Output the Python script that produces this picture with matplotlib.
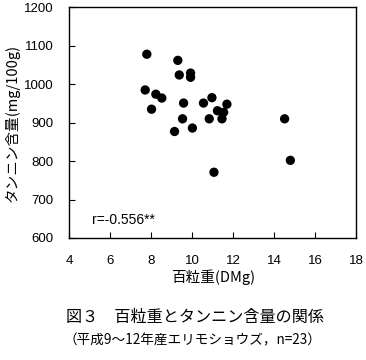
import matplotlib
matplotlib.use("Agg")
import matplotlib.pyplot as plt

plt.rcParams['font.family'] = ['Liberation Sans', 'Noto Sans CJK JP', 'DejaVu Sans']

# 百粒重 (DMg) and タンニン含量 (mg/100g)
seed_weight = [7.79, 9.30, 9.37, 9.92, 9.92, 7.71, 8.23, 8.52, 8.02, 9.58,
               10.55, 10.96, 11.23, 11.53, 11.69, 9.53, 10.83, 11.45, 14.50,
               9.14, 10.01, 11.06, 14.78]
tannin = [1078, 1062, 1024, 1029, 1018, 985, 974, 964, 935, 951,
          951, 965, 931, 927, 948, 910, 910, 910, 910,
          877, 886, 771, 802]

xticks = [4, 6, 8, 10, 12, 14, 16, 18]
yticks = [600, 700, 800, 900, 1000, 1100, 1200]

jp = ['Noto Sans CJK JP', 'DejaVu Sans']

fig = plt.figure(figsize=(3.66, 3.60), dpi=100)
ax = fig.add_axes([0.1885, 0.3389, 0.7855, 0.6408])
ax.scatter(seed_weight, tannin, s=45, color='black', edgecolors='none', zorder=3)
ax.set_xlim(4, 18)
ax.set_ylim(600, 1200)
ax.set_xticks(xticks)
ax.set_yticks(yticks)
ax.tick_params(direction='in', length=4, width=0.8, labelsize=9.5)
ax.tick_params(axis='x', pad=12)
ax.tick_params(axis='y', pad=11)
for s in ax.spines.values():
    s.set_linewidth(1.0)

ax.set_xlabel('百粒重(DMg)', fontsize=10.5, family=jp, labelpad=2)
ax.set_ylabel('タンニン含量(mg/100g)', fontsize=10.5, family=jp, labelpad=3)

ax.text(5.1, 648, 'r=-0.556**', fontsize=10, ha='left', va='center')

fig.text(0.533, 0.117, '図３　百粒重とタンニン含量の関係', fontsize=11.6, ha='center', va='center',
         family=jp)
fig.text(0.525, 0.055, '（平成9～12年産エリモショウズ，n=23）', fontsize=9.8, ha='center', va='center',
         family=jp)

fig.savefig('out.png', dpi=100)
